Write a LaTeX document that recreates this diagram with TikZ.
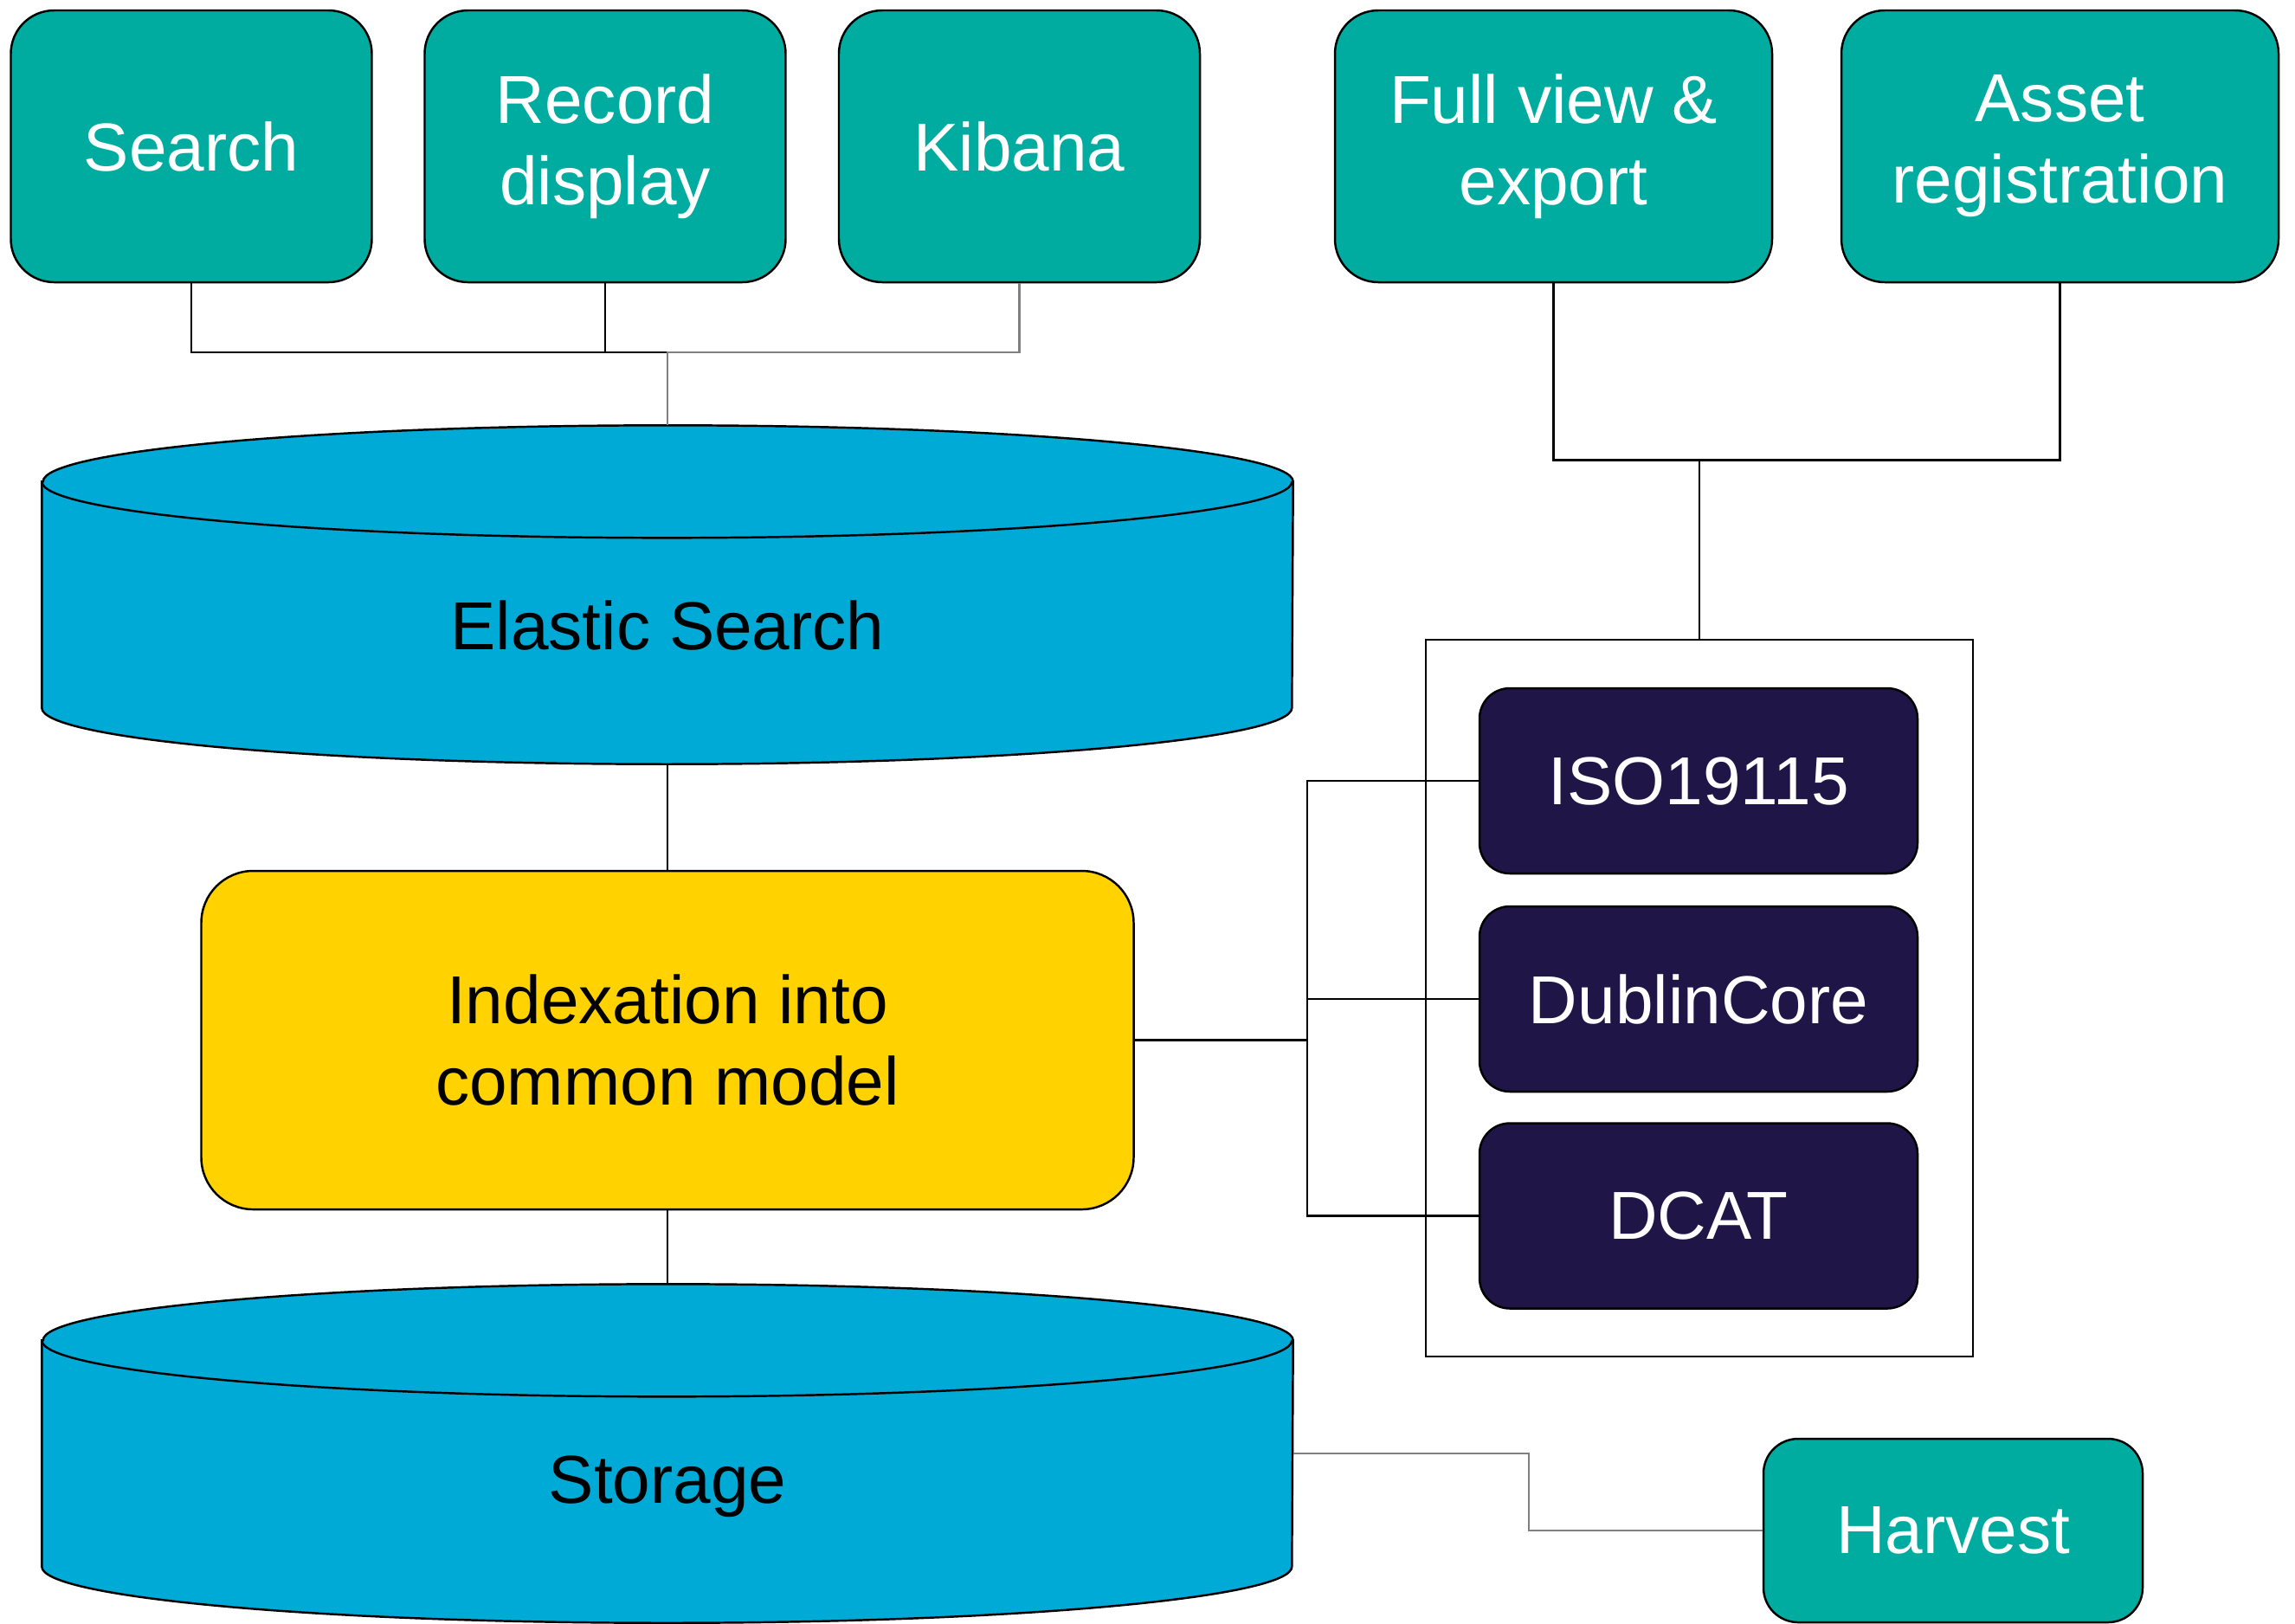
\documentclass[tikz,border=0pt]{standalone}
\usepackage{fontspec}
\setmainfont{Liberation Sans}
\usetikzlibrary{positioning,backgrounds}

\definecolor{appteal}{RGB}{0,172,160}
\definecolor{dbblue}{RGB}{0,170,214}
\definecolor{idxyellow}{RGB}{255,210,0}
\definecolor{fmtnavy}{RGB}{32,21,71}

\begin{document}
\begin{tikzpicture}[on grid,
    font=\fontsize{22.3}{26.8}\selectfont,
    app/.style={draw,line width=0.7pt,fill=appteal,text=white,rounded corners=0.5cm,
                minimum width=4.17cm,minimum height=3.14cm,align=center},
    fmt/.style={draw,line width=0.7pt,fill=fmtnavy,text=white,rounded corners=0.35cm,
                minimum width=5.06cm,minimum height=2.14cm},
    db/.style={minimum width=14.44cm,minimum height=3.9cm},
    link/.style={line width=0.6pt},
    graylink/.style={line width=0.6pt,gray}]
    \useasboundingbox (0,0) rectangle (26.51,-18.75);

    % applications on top
    \node[app] (search) at (2.21,-1.69) {Search};
    \node[app] (record) [right=4.78cm of search] {Record\\display};
    \node[app] (kibana) [right=4.785cm of record] {Kibana};
    \node[app,minimum width=5.05cm] (fullview) [right=6.17cm of kibana] {Full view \&\\export};
    \node[app,minimum width=5.05cm] (asset) [right=5.85cm of fullview] {Asset\\registration};

    % stores and indexing
    \node[db,label={[yshift=-0.35cm]center:Elastic Search}] (elastic) at (7.71,-6.87) {};
    \node[draw,line width=0.7pt,fill=idxyellow,rounded corners=0.6cm,minimum width=10.77cm,
          minimum height=3.91cm,align=center] (index) [below=5.145cm of elastic] {Indexation into\\common model};
    \node[db,label={[yshift=-0.38cm]center:Storage}] (storage) [below=4.775cm of index] {};

    % output formats
    \node[draw,line width=0.6pt,minimum width=6.32cm,minimum height=8.28cm] (frame) at (19.63,-11.53) {};
    \node[fmt] (iso) at (19.62,-9.02) {ISO19115};
    \node[fmt] (dublin) [below=2.52cm of iso] {DublinCore};
    \node[fmt] (dcat) [below=2.505cm of dublin] {DCAT};

    \node[app,rounded corners=0.4cm,minimum width=4.38cm,minimum height=2.12cm] (harvest) at (22.56,-17.68) {Harvest};

    \begin{scope}[on background layer]
      \foreach \db in {elastic,storage} {
        \draw[line width=0.7pt,fill=dbblue] ([yshift=-0.65cm]\db.north west) -- ([yshift=0.65cm]\db.south west)
          arc[start angle=180,end angle=360,x radius=7.22cm,y radius=0.65cm]
          -- ([yshift=-0.65cm]\db.north east)
          arc[start angle=0,end angle=180,x radius=7.22cm,y radius=0.65cm] -- cycle;
        \draw[line width=0.7pt] ([yshift=-0.65cm]\db.north west)
          arc[start angle=180,end angle=360,x radius=7.22cm,y radius=0.65cm];
      }
    \end{scope}

    % connectors
    \coordinate[above=0.84cm of elastic.north] (topbus);
    \draw[link] (search.south) |- (topbus);
    \draw[link] (record.south) -- (record.south |- topbus);
    \draw[graylink] (kibana.south) |- (topbus) -- (elastic.north);

    \coordinate[above=2.065cm of frame.north] (fmtbus);
    \draw[link] (fullview.south) |- (fmtbus) -| (asset.south);
    \draw[link] (fmtbus) -- (frame.north);

    \draw[link] (elastic.south) -- (index.north);
    \draw[link] (index.south) -- (storage.north);

    \coordinate[right=1.99cm of index.east] (fmtjoin);
    \draw[link] (index.east) -- (fmtjoin);
    \draw[link] (iso.west) -| (fmtjoin) |- (dcat.west);
    \draw[link] (dublin.west) -- (dublin.west -| fmtjoin);

    \draw[graylink] (storage.east) -- ++(2.72,0) |- (harvest.west);
\end{tikzpicture}
\end{document}
